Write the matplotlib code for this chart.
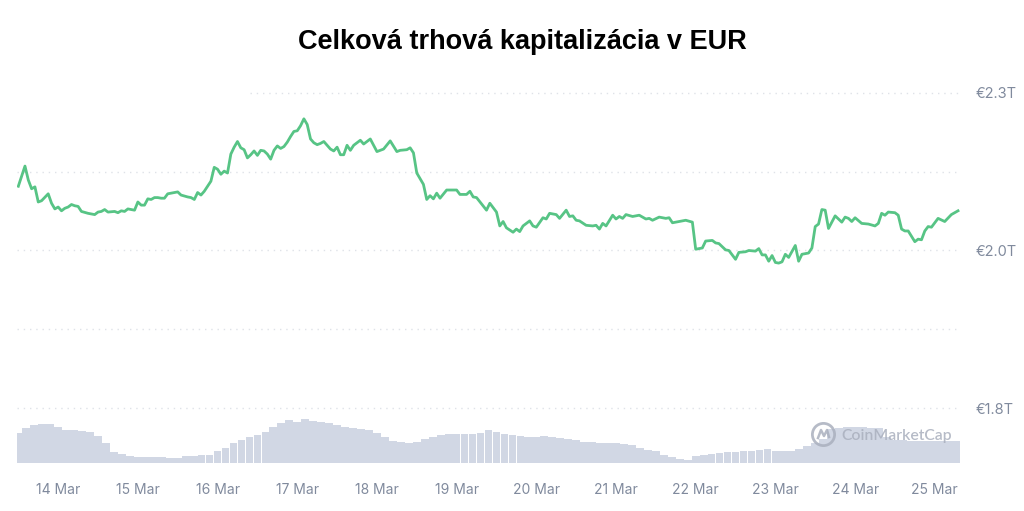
import numpy as np
import matplotlib.pyplot as plt
from matplotlib.lines import Line2D

# ============================================================
# Dáta (hodiny od 14 Mar 00:00, kapitalizácia v bil. EUR)
# ============================================================
hours = [
    -12, -10, -9, -8, -7, -6, -5, -3, -2, -1,
    0, 1, 2, 3, 4, 5, 6, 7, 9, 10,
    11, 12, 13, 14, 15, 17, 18, 19, 20, 21,
    22, 23, 24, 25, 26, 27, 28, 29, 30, 31,
    32, 33, 35, 36, 37, 39, 40, 41, 42, 43,
    44, 45, 46, 47, 48, 49, 50, 51, 52, 53,
    54, 55, 56, 57, 58, 59, 60, 61, 62, 63,
    64, 65, 66, 67, 68, 69, 70, 71, 72, 73,
    74, 75, 76, 77, 78, 79, 80, 81, 82, 83,
    84, 85, 86, 87, 88, 89, 91, 92, 94, 96,
    98, 100, 102, 103, 105, 106, 107, 108, 110, 111,
    112, 113, 114, 115, 117, 119, 120, 121, 123, 124,
    125, 126, 129, 130, 132, 133, 134, 135, 137, 138,
    139, 140, 142, 143, 144, 146, 147, 148, 150, 151,
    153, 154, 155, 156, 157, 159, 161, 162, 163, 164,
    165, 167, 168, 169, 170, 171, 173, 175, 177, 178,
    179, 181, 183, 184, 185, 187, 189, 191, 192, 194,
    195, 197, 198, 199, 201, 202, 204, 205, 207, 208,
    210, 211, 212, 213, 214, 215, 216, 217, 218, 219,
    220, 222, 223, 224, 226, 227, 228, 229, 230, 231,
    232, 234, 236, 237, 238, 239, 240, 242, 244, 246,
    247, 248, 249, 250, 252, 253, 254, 255, 256, 258,
    259, 260, 261, 262, 263, 265, 267, 269, 271,
]
market_cap = [
    2.132, 2.164, 2.142, 2.128, 2.131, 2.107, 2.109, 2.120, 2.105, 2.096,
    2.099, 2.093, 2.097, 2.099, 2.103, 2.101, 2.100, 2.092, 2.089, 2.088,
    2.087, 2.091, 2.092, 2.095, 2.091, 2.092, 2.090, 2.093, 2.092, 2.096,
    2.095, 2.094, 2.107, 2.102, 2.102, 2.112, 2.111, 2.114, 2.114, 2.113,
    2.113, 2.120, 2.122, 2.123, 2.118, 2.115, 2.114, 2.111, 2.122, 2.118,
    2.124, 2.132, 2.140, 2.162, 2.159, 2.151, 2.156, 2.153, 2.183, 2.194,
    2.203, 2.193, 2.190, 2.177, 2.182, 2.188, 2.181, 2.189, 2.188, 2.183,
    2.175, 2.189, 2.196, 2.192, 2.195, 2.202, 2.211, 2.219, 2.220, 2.228,
    2.239, 2.230, 2.207, 2.201, 2.198, 2.200, 2.203, 2.197, 2.191, 2.188,
    2.194, 2.182, 2.182, 2.197, 2.189, 2.197, 2.205, 2.199, 2.207, 2.187,
    2.191, 2.204, 2.187, 2.189, 2.190, 2.193, 2.185, 2.153, 2.135, 2.111,
    2.117, 2.112, 2.121, 2.113, 2.126, 2.126, 2.126, 2.119, 2.119, 2.124,
    2.115, 2.114, 2.094, 2.105, 2.091, 2.069, 2.076, 2.066, 2.059, 2.064,
    2.060, 2.069, 2.077, 2.069, 2.067, 2.082, 2.080, 2.089, 2.087, 2.081,
    2.094, 2.084, 2.085, 2.078, 2.077, 2.070, 2.069, 2.070, 2.064, 2.073,
    2.069, 2.086, 2.080, 2.084, 2.081, 2.087, 2.084, 2.086, 2.080, 2.081,
    2.078, 2.083, 2.081, 2.082, 2.074, 2.076, 2.078, 2.075, 2.032, 2.034,
    2.045, 2.046, 2.042, 2.041, 2.031, 2.030, 2.016, 2.027, 2.028, 2.030,
    2.029, 2.033, 2.023, 2.023, 2.013, 2.022, 2.011, 2.010, 2.012, 2.024,
    2.019, 2.038, 2.013, 2.024, 2.026, 2.034, 2.068, 2.072, 2.095, 2.094,
    2.065, 2.085, 2.075, 2.083, 2.081, 2.076, 2.082, 2.073, 2.072, 2.069,
    2.073, 2.089, 2.086, 2.091, 2.090, 2.086, 2.064, 2.061, 2.061, 2.044,
    2.048, 2.047, 2.061, 2.068, 2.067, 2.081, 2.076, 2.087, 2.093,
]

# objem (relatívne jednotky), stĺpce každých 2.4 h od 13 Mar 12:00
volume = [
    30.5, 35, 38.5, 39, 39, 36, 33.3, 33, 32.3, 30.6,
    27.5, 20, 11.5, 8.7, 7, 6.3, 6.2, 6.1, 5.8, 5,
    5, 7, 7.2, 7.6, 8.3, 12.5, 14.7, 20.3, 23.5, 26.5,
    28.5, 31, 36, 40, 42.6, 41, 44.5, 42.5, 41.2, 40,
    38.5, 36.5, 35.3, 34.3, 32.6, 30, 26, 21.6, 21.4, 19.8,
    21.3, 24, 26.1, 27.7, 28.6, 28.7, 28.8, 28.9, 30.5, 33,
    31, 29, 28, 27, 25.8, 26, 26.6, 26, 25.2, 24.2,
    22.6, 21.3, 20.6, 20, 20.5, 19.8, 19, 18.4, 15.5, 13.5,
    11.8, 8.5, 6.2, 4.3, 3, 7, 8.2, 9.2, 9.8, 10.6,
    11.5, 11.9, 12.1, 12.7, 14, 12, 11.9, 12.2, 14.3, 16.8,
    19.8, 24, 34, 35.5, 35.6, 36, 35.8, 35.5, 35.2, 26,
    23.5, 22.6, 22.4, 22.2, 22, 22, 22, 22, 22,
]
vol_start = -12
vol_step = 2.4

day_labels = ['14 Mar', '15 Mar', '16 Mar', '17 Mar', '18 Mar', '19 Mar',
              '20 Mar', '21 Mar', '22 Mar', '23 Mar', '24 Mar', '25 Mar']
grid_values = [1.78, 1.905, 2.03, 2.155, 2.28]
grid_labels = ['€1.8T', '', '€2.0T', '', '€2.3T']

LINE = '#57c485'
BAR = '#d1d7e4'
TXT = '#808a9d'
GRID = '#dfe2e8'

# ============================================================
# Graf
# ============================================================
fig = plt.figure(figsize=(10.24, 5.11), dpi=100)
ax = fig.add_axes([17 / 1024, 1 - 463 / 511, 943 / 1024, 393 / 511])
axv = ax.twinx()

vol_x = vol_start + vol_step * np.arange(len(volume))
axv.bar(vol_x, volume, width=vol_step * 0.97, color=BAR, align='center', linewidth=0)
axv.set_ylim(0, 393)
axv.set_yticks([])
for s in axv.spines.values():
    s.set_visible(False)

ax.set_zorder(axv.get_zorder() + 1)
ax.patch.set_visible(False)

for i, g in enumerate(grid_values):
    xmin = 0.247 if i == len(grid_values) - 1 else 0
    ax.axhline(g, xmin=xmin, xmax=1, color=GRID, lw=1, linestyle=(0, (1, 3.5)), zorder=0)

ax.plot(hours, market_cap, color=LINE, lw=2, solid_joinstyle='round', zorder=3)

ax.set_xlim(-12.4, 271.6)
ax.set_ylim(1.6927, 2.3165)
ax.set_xticks(np.arange(len(day_labels)) * 24)
ax.set_xticklabels(day_labels)
ax.yaxis.tick_right()
ax.set_yticks(grid_values)
ax.set_yticklabels(grid_labels)
ax.tick_params(axis='both', length=0, labelcolor=TXT, labelsize=10)
ax.tick_params(axis='x', pad=14.5)
ax.tick_params(axis='y', pad=11.5, labelsize=10.5)
for lbl in ax.get_xticklabels() + ax.get_yticklabels():
    lbl.set_family(['Inter', 'DejaVu Sans'])
for s in ax.spines.values():
    s.set_visible(False)

fig.text(0.51, 1 - 42 / 511, 'Celková trhová kapitalizácia v EUR', ha='center', va='center',
         fontsize=19.5, fontweight='bold', family=['Liberation Sans', 'DejaVu Sans'])

# vodoznak
wm = '#aab0be'
cx, cy = 823 / 1024, 1 - 434 / 511
fig.add_artist(Line2D([cx], [cy], marker='o', markersize=16,
                      mfc='none', mec=wm, mew=2, alpha=0.85, transform=fig.transFigure))
fig.add_artist(Line2D([cx - 5 / 1024, cx - 2 / 1024, cx + 1 / 1024, cx + 4 / 1024, cx + 6 / 1024],
                      [cy - 4 / 511, cy + 4 / 511, cy - 2 / 511, cy + 4 / 511, cy - 3 / 511],
                      color=wm, lw=1.8, alpha=0.85, transform=fig.transFigure))
fig.text(841 / 1024, 1 - 436 / 511, 'CoinMarketCap', ha='left', va='center',
         fontsize=11.3, fontweight='semibold', color=wm, alpha=0.85,
         family=['Lato', 'DejaVu Sans'])

plt.savefig('out.png', dpi=100)
